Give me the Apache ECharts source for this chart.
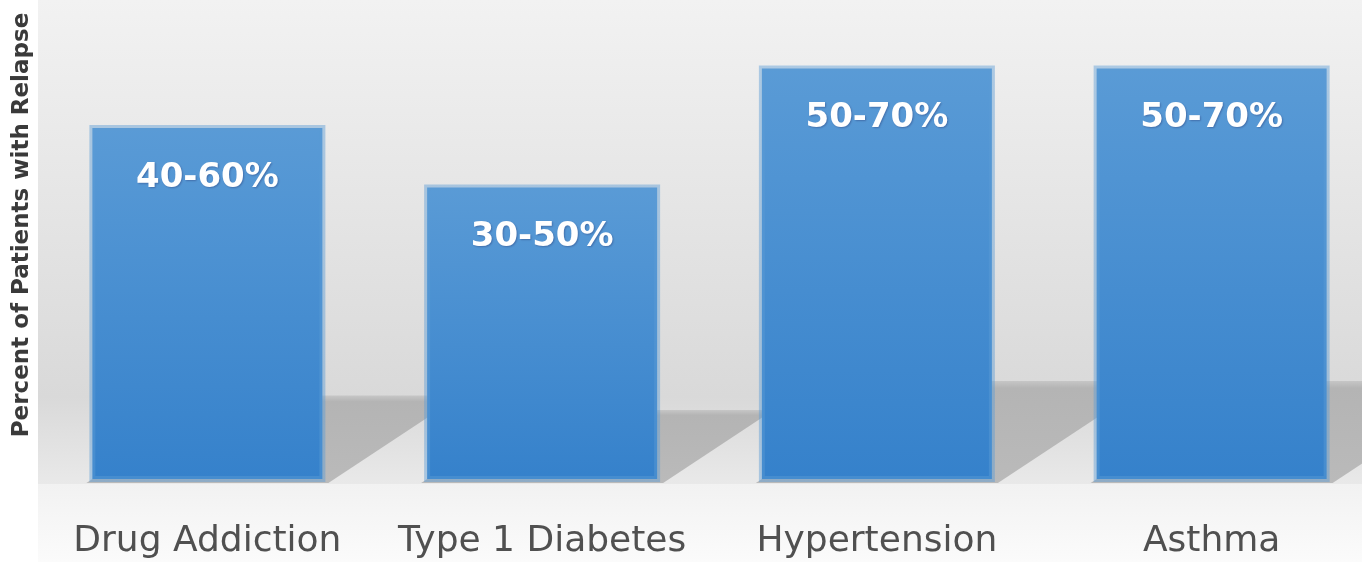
<!DOCTYPE html>
<html>
<head>
<meta charset="utf-8">
<script src="https://cdn.jsdelivr.net/npm/echarts@6/dist/echarts.min.js"></script>
<style>
html,body{margin:0;padding:0;background:#ffffff;overflow:hidden;width:1362px;height:562px;}
#chart{width:1380px;height:562px;}
</style>
</head>
<body>
<div id="chart"></div>
<script>
// ---- data ----
const categories = ['Drug Addiction', 'Type 1 Diabetes', 'Hypertension', 'Asthma'];
const relapseUpper = [60, 50, 70, 70];
const rangeLabels = ['40-60%', '30-50%', '50-70%', '50-70%'];
const yAxisTitle = 'Percent of Patients with Relapse';

const chart = echarts.init(document.getElementById('chart'));

const SHADOW_RATIO = 0.245;  // shadow length relative to bar height
const SHADOW_SLOPE = 0.66;   // dy/dx of cast shadow
const BAR_W = 236;

const option = {
  backgroundColor: '#ffffff',
  animation: false,
  graphic: [
    {
      type: 'rect', z: -100, silent: true,
      shape: { x: 38, y: 0, width: 1342, height: 484 },
      style: {
        fill: new echarts.graphic.LinearGradient(0, 0, 0, 1, [
          { offset: 0, color: '#f2f2f2' },
          { offset: 0.82, color: '#d9d9d9' },
          { offset: 1, color: '#e9e9e9' }
        ])
      }
    },
    {
      type: 'rect', z: -100, silent: true,
      shape: { x: 38, y: 484, width: 1342, height: 78 },
      style: {
        fill: new echarts.graphic.LinearGradient(0, 0, 0, 1, [
          { offset: 0, color: '#f2f2f2' },
          { offset: 1, color: '#fbfbfb' }
        ])
      }
    },
    {
      type: 'text', z: 10,
      x: 11, y: 225, rotation: Math.PI / 2,
      style: {
        text: yAxisTitle,
        fill: '#3a3a3a',
        font: 'bold 23px "DejaVu Sans"',
        align: 'center',
        verticalAlign: 'top'
      }
    }
  ],
  grid: { left: 40, top: 0, width: 1339, height: 482, containLabel: false },
  xAxis: {
    type: 'category',
    data: categories,
    axisLine: { show: false },
    axisTick: { show: false },
    axisLabel: {
      margin: 42,
      fontSize: 36,
      fontFamily: 'DejaVu Sans',
      color: '#505050',
      interval: 0
    }
  },
  yAxis: {
    type: 'value',
    min: 0,
    max: 81,
    show: false,
    splitLine: { show: false }
  },
  series: [
    {
      type: 'custom',
      z: 1,
      silent: true,
      data: relapseUpper.map((v, i) => [i, v]),
      renderItem: function (params, api) {
        const i = api.value(0);
        const v = api.value(1);
        const base = api.coord([i, 0]);
        const top = api.coord([i, v]);
        const h = base[1] - top[1];
        const dy = h * SHADOW_RATIO;
        const dx = dy / SHADOW_SLOPE;
        const xL = base[0] - BAR_W / 2 - 3;
        const xR = base[0] + BAR_W / 2 + 3;
        const y0 = base[1] + 1;
        return {
          type: 'polygon',
          shape: {
            points: [
              [xL, y0], [xL + dx, y0 - dy], [xR + dx, y0 - dy], [xR, y0]
            ]
          },
          style: {
            fill: new echarts.graphic.LinearGradient(0, 0, 0, 1, [
              { offset: 0, color: '#c6c6c6' },
              { offset: 0.07, color: '#b4b4b4' },
              { offset: 1, color: '#bababa' }
            ])
          }
        };
      }
    },
    {
      type: 'bar',
      z: 3,
      barWidth: BAR_W,
      data: relapseUpper,
      itemStyle: {
        color: new echarts.graphic.LinearGradient(0, 0, 0, 1, [
          { offset: 0, color: '#5a9bd6' },
          { offset: 1, color: '#3581cb' }
        ]),
        borderColor: 'rgba(91,155,213,0.45)',
        borderWidth: 6
      },
      label: {
        show: true,
        position: 'insideTop',
        distance: 36,
        formatter: function (p) { return rangeLabels[p.dataIndex]; },
        color: '#ffffff',
        fontSize: 34,
        fontWeight: 'bold',
        fontFamily: 'DejaVu Sans',
        textShadowColor: 'rgba(40,60,120,0.45)',
        textShadowBlur: 2,
        textShadowOffsetX: 1,
        textShadowOffsetY: 1
      }
    }
  ]
};

chart.setOption(option);
</script>
</body>
</html>
